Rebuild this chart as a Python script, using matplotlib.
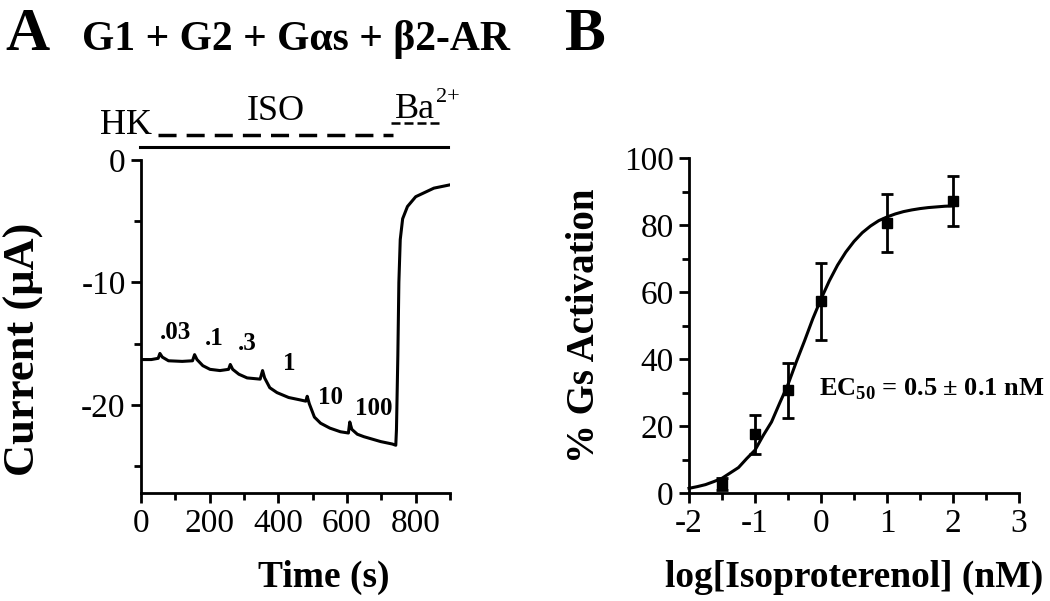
# Setup
import numpy as np
from matplotlib import pyplot as plt
from matplotlib.ticker import MultipleLocator

plt.rcParams['font.family'] = ['Liberation Serif', 'DejaVu Serif']
plt.rcParams['mathtext.fontset'] = 'custom'
plt.rcParams['mathtext.rm'] = 'Liberation Serif'
plt.rcParams['mathtext.bf'] = 'Liberation Serif:bold'
plt.rcParams['axes.unicode_minus'] = False

# Data: panel A current trace
time_s = [0, 30, 50, 55, 62, 80, 120, 150, 156, 163, 180, 201, 230, 255, 260, 267,
          285, 309, 347, 354, 360, 375, 396, 430, 464, 480, 484, 490, 505, 523,
          550, 581, 604, 608, 614, 630, 649, 698, 732, 742, 744, 748, 751, 755,
          762, 776, 800, 853, 905]
current_ua = [-16.3, -16.3, -16.2, -15.8, -16.1, -16.4, -16.45, -16.4, -15.9, -16.3,
              -16.8, -17.1, -17.2, -17.1, -16.7, -17.1, -17.5, -17.8, -17.9, -17.2,
              -17.8, -18.6, -19.0, -19.4, -19.6, -19.7, -19.3, -19.9, -21.0, -21.5,
              -21.9, -22.2, -22.3, -21.4, -22.0, -22.4, -22.6, -23.0, -23.2, -23.3,
              -22.0, -16.0, -10.0, -6.5, -4.8, -3.8, -3.0, -2.3, -2.0]

dose_labels = ['.03', '.1', '.3', '1', '10', '100']
dose_label_t = [100, 212, 310, 432, 552, 678]
dose_label_i = [-15.0, -15.5, -15.9, -17.6, -20.3, -21.2]

# Data: panel B dose response
log_iso = [-1.5, -1.0, -0.5, 0.0, 1.0, 2.0]
activation = [2.7, 17.5, 30.7, 57.3, 80.6, 87.2]
activation_err = [1.8, 5.8, 8.2, 11.5, 8.6, 7.4]

fit_x = [-2.0, -1.875, -1.75, -1.625, -1.5, -1.375, -1.25, -1.125, -1.0, -0.875,
         -0.75, -0.625, -0.5, -0.375, -0.25, -0.125, 0.0, 0.125, 0.25, 0.375,
         0.5, 0.625, 0.75, 0.875, 1.0, 1.125, 1.25, 1.375, 1.5, 1.625, 1.75,
         1.875, 2.0]
fit_y = [1.4, 1.9, 2.5, 3.4, 4.4, 6.0, 7.6, 10.3, 12.8, 17.2, 21.2, 26.9, 32.4,
         39.1, 45.4, 52.0, 57.9, 63.3, 68.0, 71.9, 75.1, 77.7, 79.7, 81.3, 82.4,
         83.3, 84.0, 84.5, 84.9, 85.2, 85.4, 85.6, 85.7]

# Figure
fig = plt.figure(figsize=(10.5, 6.01), dpi=100)
axA = fig.add_axes([0.1343, 0.1797, 0.2943, 0.5541])
axB = fig.add_axes([0.6562, 0.1797, 0.3143, 0.5574])

for ax in (axA, axB):
    for side in ('top', 'right'):
        ax.spines[side].set_visible(False)
    for side in ('left', 'bottom'):
        ax.spines[side].set_linewidth(2)
    ax.tick_params(which='both', direction='out', width=2, labelsize=24, pad=4)
    ax.tick_params(which='major', length=7)
    ax.tick_params(which='minor', length=5)

# Panel A
axA.plot(time_s, current_ua, color='k', lw=2.2)
axA.set_xlim(0, 900)
axA.set_ylim(-27.2, 0)
axA.xaxis.set_minor_locator(MultipleLocator(100))
axA.set_xticks([0, 200, 400, 600, 800])
axA.yaxis.set_major_locator(MultipleLocator(10))
axA.yaxis.set_minor_locator(MultipleLocator(5))
axA.set_xlabel('Time (s)', fontsize=27, fontweight='bold')
axA.set_ylabel('Current (μA)', fontsize=32, fontweight='bold')
axA.xaxis.set_label_coords(0.59, -0.2)
axA.yaxis.set_label_coords(-0.315, 0.43)

for lab, t, i in zip(dose_labels, dose_label_t, dose_label_i):
    axA.text(t, i, lab, fontsize=18, fontweight='bold', ha='center', va='bottom')

# solution bars above the trace
axA.plot([-3, 893], [1.06, 1.06], color='k', lw=2.2, clip_on=False)
axA.plot([50, 733], [2.04, 2.04], color='k', lw=2.5, clip_on=False,
         dashes=(5.2, 2.9))
axA.plot([727, 879], [3.0, 3.0], color='k', lw=1.8, clip_on=False,
         dashes=(3.6, 1.6))
axA.text(-120, 1.5, 'HK', fontsize=26, ha='left', va='bottom')
axA.text(394, 2.6, 'ISO', fontsize=26, ha='center', va='bottom')
axA.text(741, 2.8, 'Ba', fontsize=26, ha='left', va='bottom')
axA.text(858, 4.3, '2+', fontsize=16, ha='left', va='bottom')

# Panel B
axB.plot(fit_x, fit_y, color='k', lw=2.2, clip_on=False)
axB.errorbar(log_iso, activation, yerr=activation_err, fmt='s', color='k',
             ms=7, elinewidth=2, capsize=4, capthick=2, clip_on=False)
axB.set_xlim(-2, 3)
axB.set_ylim(0, 100)
axB.xaxis.set_major_locator(MultipleLocator(1))
axB.xaxis.set_minor_locator(MultipleLocator(0.5))
axB.yaxis.set_major_locator(MultipleLocator(20))
axB.yaxis.set_minor_locator(MultipleLocator(10))
axB.set_xlabel('log[Isoproterenol] (nM)', fontsize=27, fontweight='bold')
axB.set_ylabel('% Gs Activation', fontsize=28, fontweight='bold')
axB.xaxis.set_label_coords(0.5, -0.2)
axB.yaxis.set_label_coords(-0.26, 0.5)
axB.text(-0.03, 31, 'EC$_{\\mathbf{50}}$ = 0.5 ± 0.1 nM', fontsize=19,
         fontweight='bold', ha='left', va='center')

# Panel letters and title
fig.text(0.005, 1 - 50 / 601, 'A', fontsize=44, fontweight='bold', va='baseline')
fig.text(82 / 1050, 1 - 50 / 601, 'G1 + G2 + Gαs + β2-AR', fontsize=30,
         fontweight='bold', va='baseline')
fig.text(565 / 1050, 1 - 50 / 601, 'B', fontsize=44, fontweight='bold', va='baseline')

fig.savefig('out.png', dpi=100)
